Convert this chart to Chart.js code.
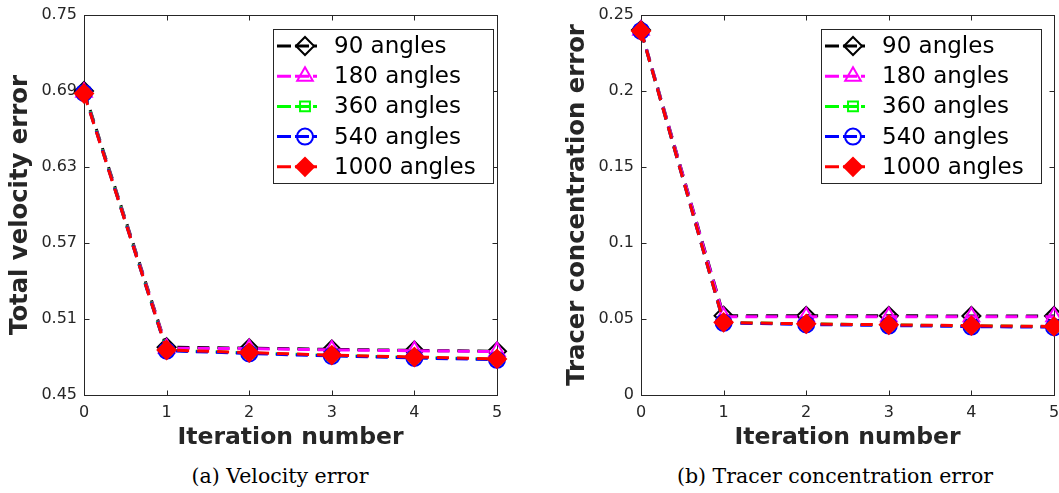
<!DOCTYPE html>
<html><head><meta charset="utf-8">
<script src="https://cdn.jsdelivr.net/npm/chart.js@4/dist/chart.umd.min.js"></script>
<style>
html,body{margin:0;padding:0;background:#fff;width:1059px;height:493px;overflow:hidden}
canvas{position:absolute;top:0}
#cA{left:0}
#cB{left:530px}
.cap{position:absolute;top:464px;height:24px;line-height:24px;font-family:"DejaVu Serif";font-size:20.5px;color:#000;text-align:center;white-space:nowrap}
</style></head>
<body>
<canvas id="cA" width="530" height="455"></canvas>
<canvas id="cB" width="529" height="455"></canvas>
<div class="cap" style="left:80px;width:400px">(a) Velocity error</div>
<div class="cap" style="left:635px;width:400px">(b) Tracer concentration error</div>
<script>
// ---- data ----
const iterations = [0, 1, 2, 3, 4, 5];
const seriesLabels = ['90 angles', '180 angles', '360 angles', '540 angles', '1000 angles'];

const velocity90   = [0.6900, 0.4877, 0.4870, 0.4860, 0.4852, 0.4845];
const velocity180  = [0.6890, 0.4870, 0.4866, 0.4856, 0.4849, 0.4843];
const velocity360  = [0.6890, 0.4853, 0.4832, 0.4812, 0.4797, 0.4782];
const velocity540  = [0.6885, 0.4850, 0.4828, 0.4808, 0.4793, 0.4778];
const velocity1000 = [0.6880, 0.4855, 0.4835, 0.4815, 0.4800, 0.4785];

const tracer90   = [0.2402, 0.0522, 0.0521, 0.0521, 0.0520, 0.0520];
const tracer180  = [0.2400, 0.0515, 0.0515, 0.0514, 0.0514, 0.0514];
const tracer360  = [0.2395, 0.0478, 0.0468, 0.0461, 0.0455, 0.0450];
const tracer540  = [0.2395, 0.0475, 0.0464, 0.0457, 0.0450, 0.0446];
const tracer1000 = [0.2395, 0.0478, 0.0468, 0.0462, 0.0456, 0.0451];

const xTickValues = [0, 1, 2, 3, 4, 5];
const xTickLabels = ['0', '1', '2', '3', '4', '5'];
const velocityTickValues = [0.45, 0.51, 0.57, 0.63, 0.69, 0.75];
const velocityTickLabels = ['0.45', '0.51', '0.57', '0.63', '0.69', '0.75'];
const tracerTickValues = [0, 0.05, 0.1, 0.15, 0.2, 0.25];
const tracerTickLabels = ['0', '0.05', '0.1', '0.15', '0.2', '0.25'];

// ---- styles ----
const seriesStyles = [
  {color: '#000000', style: 'rectRot',  radius: 9, fill: false},
  {color: '#ff00ff', style: 'triangle', radius: 9, fill: false},
  {color: '#00ff00', style: 'rect',     radius: 7, fill: false},
  {color: '#0000ff', style: 'circle',   radius: 8, fill: false},
  {color: '#ff0000', style: 'rectRot',  radius: 9, fill: true}
];
const FONT = 'DejaVu Sans';
const AXIS = '#262626';

function drawMarker(ctx, style, x, y, r) {
  ctx.beginPath();
  if (style === 'rectRot') {
    ctx.moveTo(x - r, y); ctx.lineTo(x, y - r); ctx.lineTo(x + r, y); ctx.lineTo(x, y + r); ctx.closePath();
  } else if (style === 'triangle') {
    ctx.moveTo(x, y - r);
    ctx.lineTo(x + Math.sin(2*Math.PI/3) * r, y - Math.cos(2*Math.PI/3) * r);
    ctx.lineTo(x + Math.sin(4*Math.PI/3) * r, y - Math.cos(4*Math.PI/3) * r);
    ctx.closePath();
  } else if (style === 'rect') {
    const s = Math.SQRT1_2 * r; ctx.rect(x - s, y - s, 2*s, 2*s);
  } else {
    ctx.arc(x, y, r, 0, Math.PI * 2);
  }
}

const framePlugin = {
  id: 'mlFrame',
  beforeDatasetsDraw(chart) {
    const {ctx, chartArea: ca, scales: {x, y}} = chart;
    const L = Math.round(ca.left) + 0.5, R = Math.round(ca.right) + 0.5;
    const T = Math.round(ca.top) + 0.5, B = Math.round(ca.bottom) + 0.5;
    ctx.save();
    ctx.strokeStyle = AXIS; ctx.lineWidth = 1; ctx.setLineDash([]);
    ctx.strokeRect(L, T, R - L, B - T);
    const tl = 5;
    ctx.beginPath();
    x.ticks.forEach(t => {
      const px = Math.round(x.getPixelForValue(t.value)) + 0.5;
      ctx.moveTo(px, B); ctx.lineTo(px, B - tl);
      ctx.moveTo(px, T); ctx.lineTo(px, T + tl);
    });
    y.ticks.forEach(t => {
      const py = Math.round(y.getPixelForValue(t.value)) + 0.5;
      ctx.moveTo(L, py); ctx.lineTo(L + tl, py);
      ctx.moveTo(R, py); ctx.lineTo(R - tl, py);
    });
    ctx.stroke();
    ctx.restore();
  }
};

const legendPlugin = {
  id: 'mlLegend',
  afterDraw(chart, args, opts) {
    const {ctx} = chart;
    const bx = opts.left, by = opts.top, bw = opts.width, bh = opts.height;
    ctx.save();
    ctx.fillStyle = '#ffffff';
    ctx.fillRect(bx, by, bw, bh);
    ctx.strokeStyle = AXIS; ctx.lineWidth = 1; ctx.setLineDash([]);
    ctx.strokeRect(Math.round(bx) + 0.5, Math.round(by) + 0.5, Math.round(bw), Math.round(bh));
    chart.data.datasets.forEach((ds, i) => {
      const st = seriesStyles[i];
      const cy = by + 17 + i * 30.2;
      ctx.strokeStyle = st.color; ctx.lineWidth = 3;
      ctx.setLineDash([14, 4]);
      ctx.beginPath(); ctx.moveTo(bx + 4, cy); ctx.lineTo(bx + 44, cy); ctx.stroke();
      ctx.setLineDash([]);
      ctx.lineWidth = 2;
      drawMarker(ctx, st.style, bx + 32, cy, st.radius);
      if (st.fill) { ctx.fillStyle = st.color; ctx.fill(); }
      ctx.stroke();
      ctx.fillStyle = '#000000';
      ctx.font = '23px "' + FONT + '"';
      ctx.textBaseline = 'middle'; ctx.textAlign = 'left';
      ctx.fillText(ds.label, bx + 61, cy + 1);
    });
    ctx.restore();
  }
};

function buildChart(canvasId, series, yTickValues, yTickLabels, yMin, yMax, yTitle, yWidth, yTitlePad, padRight, legendBox) {
  const datasets = series.map((vals, i) => {
    const st = seriesStyles[i];
    return {
      label: seriesLabels[i],
      data: iterations.map((it, j) => ({x: it, y: vals[j]})),
      borderColor: st.color,
      backgroundColor: st.color,
      borderWidth: 3,
      borderDash: [12, 8],
      pointStyle: st.style,
      pointRadius: st.radius,
      pointHoverRadius: st.radius,
      pointBorderWidth: 2,
      pointBorderColor: st.color,
      pointBackgroundColor: st.fill ? st.color : 'rgba(0,0,0,0)',
      order: 5 - i,
      clip: false,
      tension: 0,
      fill: false
    };
  });
  return new Chart(document.getElementById(canvasId), {
    type: 'line',
    data: {datasets},
    plugins: [framePlugin, legendPlugin],
    options: {
      responsive: false,
      animation: false,
      events: [],
      layout: {autoPadding: false, padding: {left: 0, right: padRight, top: 15, bottom: 0}},
      plugins: {
        legend: {display: false},
        tooltip: {enabled: false},
        mlLegend: legendBox
      },
      scales: {
        x: {
          type: 'linear', min: 0, max: 5,
          afterBuildTicks: s => { s.ticks = xTickValues.map(v => ({value: v})); },
          afterFit: s => { s.height = 60; s.paddingLeft = 0; s.paddingRight = 0; },
          ticks: {
            autoSkip: false, maxRotation: 0, padding: 8, color: AXIS,
            font: {family: FONT, size: 16},
            callback: (v, i) => xTickLabels[i]
          },
          grid: {display: false, drawTicks: false},
          border: {display: false},
          title: {display: true, text: 'Iteration number', color: AXIS,
                  font: {family: FONT, size: 23.5, weight: 'bold'},
                  padding: {top: 0, bottom: 3}}
        },
        y: {
          type: 'linear', min: yMin, max: yMax,
          afterBuildTicks: s => { s.ticks = yTickValues.map(v => ({value: v})); },
          afterFit: s => { s.width = yWidth; s.paddingTop = 0; s.paddingBottom = 0; },
          ticks: {
            autoSkip: false, padding: 7, color: AXIS,
            font: {family: FONT, size: 16},
            callback: (v, i) => yTickLabels[i]
          },
          grid: {display: false, drawTicks: false},
          border: {display: false},
          title: {display: true, text: yTitle, color: AXIS,
                  font: {family: FONT, size: 24.3, weight: 'bold'},
                  padding: {top: yTitlePad, bottom: 0}}
        }
      }
    }
  });
}

buildChart('cA',
  [velocity90, velocity180, velocity360, velocity540, velocity1000],
  velocityTickValues, velocityTickLabels, 0.45, 0.75,
  'Total velocity error', 84, 6.4, 33,
  {left: 273, top: 29, width: 220, height: 154});

buildChart('cB',
  [tracer90, tracer180, tracer360, tracer540, tracer1000],
  tracerTickValues, tracerTickLabels, 0, 0.25,
  'Tracer concentration error', 111, 33.4, 5,
  {left: 291, top: 29, width: 220, height: 154});
</script>
</body></html>
